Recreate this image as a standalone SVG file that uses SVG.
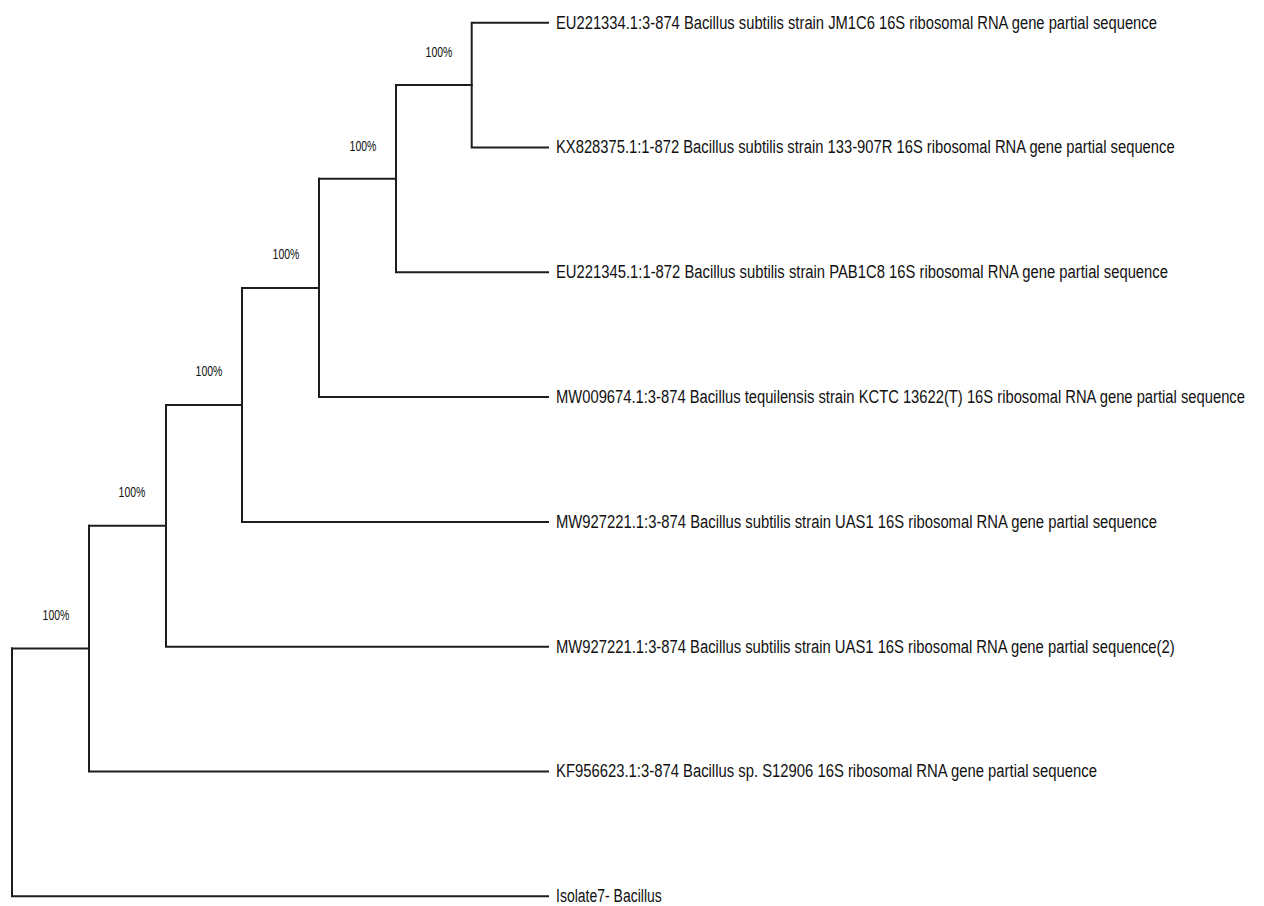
<svg xmlns="http://www.w3.org/2000/svg" width="1264" height="906" viewBox="0 0 1264 906">
<style>
.br{fill:none;stroke:#1e1e1e;stroke-width:2;stroke-linecap:square}
.lf{font-family:"Liberation Sans",Arial,sans-serif;font-size:19px;fill:#111111}
.bs{font-family:"Liberation Sans",Arial,sans-serif;font-size:15px;fill:#111111;text-anchor:middle}
</style>
<rect width="1264" height="906" fill="#ffffff"/>
<g id="connectors">
<path class="br" d="M12,648.6 V896.3 H548"/>
<path class="br" d="M12,648.6 H89"/>
<path class="br" d="M89,525.8 V771.5 H548"/>
<path class="br" d="M89,525.8 H166"/>
<path class="br" d="M166,404.9 V646.7 H548"/>
<path class="br" d="M166,404.9 H242"/>
<path class="br" d="M242,287.9 V521.9 H548"/>
<path class="br" d="M242,287.9 H319"/>
<path class="br" d="M319,178.7 V397.1 H548"/>
<path class="br" d="M319,178.7 H396"/>
<path class="br" d="M396,85.1 V272.3 H548"/>
<path class="br" d="M396,85.1 H471.7"/>
<path class="br" d="M548,22.7 H471.7 V147.5 H548"/>
</g>
<g id="support">
<text class="bs" transform="translate(439,56.5) scale(0.7,1)" x="0" y="0">100%</text>
<text class="bs" transform="translate(363,150.5) scale(0.7,1)" x="0" y="0">100%</text>
<text class="bs" transform="translate(286,258.5) scale(0.7,1)" x="0" y="0">100%</text>
<text class="bs" transform="translate(209,375.5) scale(0.7,1)" x="0" y="0">100%</text>
<text class="bs" transform="translate(132,496.5) scale(0.7,1)" x="0" y="0">100%</text>
<text class="bs" transform="translate(56,619.5) scale(0.7,1)" x="0" y="0">100%</text>
</g>
<g id="leaf1"><text class="lf" transform="translate(556,28.5) scale(0.74,1)" x="0" y="0" textLength="812" lengthAdjust="spacingAndGlyphs">EU221334.1:3-874 Bacillus subtilis strain JM1C6 16S ribosomal RNA gene partial sequence</text></g>
<g id="leaf2"><text class="lf" transform="translate(556,153.3) scale(0.74,1)" x="0" y="0" textLength="836" lengthAdjust="spacingAndGlyphs">KX828375.1:1-872 Bacillus subtilis strain 133-907R 16S ribosomal RNA gene partial sequence</text></g>
<g id="leaf3"><text class="lf" transform="translate(556,278.1) scale(0.74,1)" x="0" y="0" textLength="827" lengthAdjust="spacingAndGlyphs">EU221345.1:1-872 Bacillus subtilis strain PAB1C8 16S ribosomal RNA gene partial sequence</text></g>
<g id="leaf4"><text class="lf" transform="translate(556,402.9) scale(0.74,1)" x="0" y="0" textLength="931" lengthAdjust="spacingAndGlyphs">MW009674.1:3-874 Bacillus tequilensis strain KCTC 13622(T) 16S ribosomal RNA gene partial sequence</text></g>
<g id="leaf5"><text class="lf" transform="translate(556,527.7) scale(0.74,1)" x="0" y="0" textLength="812" lengthAdjust="spacingAndGlyphs">MW927221.1:3-874 Bacillus subtilis strain UAS1 16S ribosomal RNA gene partial sequence</text></g>
<g id="leaf6"><text class="lf" transform="translate(556,652.5) scale(0.74,1)" x="0" y="0" textLength="836" lengthAdjust="spacingAndGlyphs">MW927221.1:3-874 Bacillus subtilis strain UAS1 16S ribosomal RNA gene partial sequence(2)</text></g>
<g id="leaf7"><text class="lf" transform="translate(556,777.3) scale(0.74,1)" x="0" y="0" textLength="731" lengthAdjust="spacingAndGlyphs">KF956623.1:3-874 Bacillus sp. S12906 16S ribosomal RNA gene partial sequence</text></g>
<g id="leaf8"><text class="lf" transform="translate(556,902.1) scale(0.74,1)" x="0" y="0" textLength="143" lengthAdjust="spacingAndGlyphs">Isolate7- Bacillus</text></g>
</svg>
